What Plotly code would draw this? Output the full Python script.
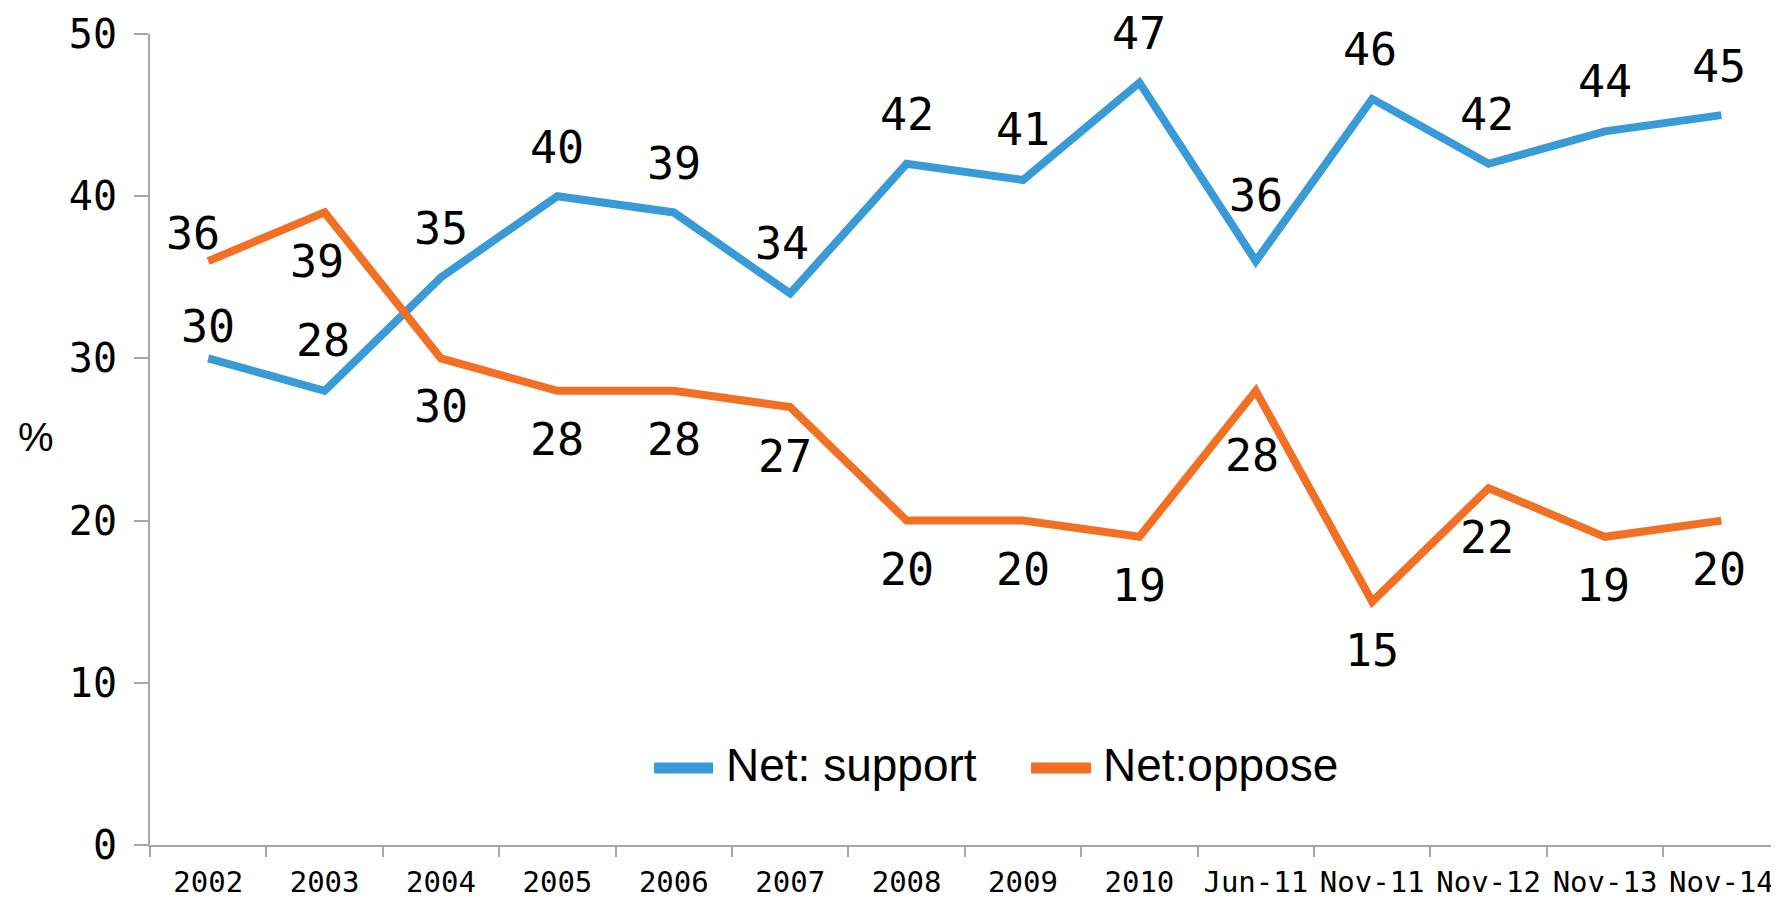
import plotly.graph_objects as go

# ---- data ----
categories = ["2002", "2003", "2004", "2005", "2006", "2007", "2008", "2009",
              "2010", "Jun-11", "Nov-11", "Nov-12", "Nov-13", "Nov-14"]
net_support = [30, 28, 35, 40, 39, 34, 42, 41, 47, 36, 46, 42, 44, 45]
net_oppose = [36, 39, 30, 28, 28, 27, 20, 20, 19, 28, 15, 22, 19, 20]
series_names = ["Net: support", "Net:oppose"]
y_ticks = [0, 10, 20, 30, 40, 50]
y_title = "%"

# ---- style ----
OFF = 8  # page body margin of the html wrapper
W, H = 1779 - OFF, 900 - OFF
ML, MR, MT = 150 - OFF, 0, 34 - OFF
PH = 811
MB = H - MT - PH
PW = W - ML - MR
BLUE = "#389AD6"
ORANGE = "#F17024"
AXIS = "#A6A6A6"
MONO = "DejaVu Sans Mono"
SANS = "Liberation Sans"

# label offsets (pixels) for each point
sup_dy = [32, 50, 49, 49, 49, 50, 49, 50, 49, 66, 49, 49, 50, 49]
sup_dx = [0, -2, 0, 0, 0, -8, 0, 0, 0, 0, -2, -2, 0, -2]
opp_dy = [28, -49, -48, -49, -49, -49, -49, -49, -49, -65, -49, -49, -49, -49]
opp_dx = [-15, -8, 0, 0, 0, -5, 0, 0, 0, -4, 0, -2, -2, -2]

fig = go.Figure()
fig.add_trace(go.Scatter(x=categories, y=net_support, mode="lines", name=series_names[0],
                         line=dict(color=BLUE, width=8), showlegend=False))
fig.add_trace(go.Scatter(x=categories, y=net_oppose, mode="lines", name=series_names[1],
                         line=dict(color=ORANGE, width=8), showlegend=False))

annotations = []
for vals, dys, dxs in ((net_support, sup_dy, sup_dx), (net_oppose, opp_dy, opp_dx)):
    for i, (v, dy, dx) in enumerate(zip(vals, dys, dxs)):
        # category axis: position given as category index
        annotations.append(dict(x=i, y=v, xref="x", yref="y", text=str(v), showarrow=False,
                                yshift=dy, xshift=dx,
                                font=dict(family=MONO, size=45, color="black")))


# convert page pixel positions into paper coordinates
def px_x(p):
    return (p - OFF - ML) / PW


def px_y(p):
    return (OFF + MT + PH - p) / PH


# y-axis title (horizontal)
annotations.append(dict(xref="paper", yref="paper", x=px_x(36), y=px_y(437), text=y_title,
                        showarrow=False, xanchor="center", yanchor="middle",
                        font=dict(family=SANS, size=40, color="black")))

# manual legend
shapes = []
legend_items = [(series_names[0], BLUE, 654, 713, 724), (series_names[1], ORANGE, 1031, 1091, 1101)]
for name, col, x0, x1, xt in legend_items:
    shapes.append(dict(type="line", xref="paper", yref="paper", x0=px_x(x0), x1=px_x(x1),
                       y0=px_y(768), y1=px_y(768), line=dict(color=col, width=11)))
    annotations.append(dict(xref="paper", yref="paper", x=px_x(xt), y=px_y(765), text=name,
                            xanchor="left", yanchor="middle", showarrow=False,
                            font=dict(family=SANS, size=46, color="black")))

fig.update_layout(
    width=W, height=H,
    margin=dict(l=ML, r=MR, t=MT, b=MB, pad=0),
    plot_bgcolor="white", paper_bgcolor="white",
    showlegend=False,
    annotations=annotations,
    shapes=shapes,
    xaxis=dict(type="category", categoryorder="array", categoryarray=categories,
               range=[-0.5, -0.5 + PW / 116.4], automargin=False, tickangle=0,
               showgrid=False, zeroline=False, showline=True, linecolor=AXIS, linewidth=2,
               ticks="outside", tickson="boundaries", ticklen=10, tickcolor=AXIS, tickwidth=2,
               tickfont=dict(family=MONO, size=29, color="black"), ticklabelstandoff=10),
    yaxis=dict(range=[0, 50], tickvals=y_ticks, showgrid=False, zeroline=False,
               automargin=False,
               showline=True, linecolor=AXIS, linewidth=2,
               ticks="outside", ticklen=14, tickcolor=AXIS, tickwidth=2,
               tickfont=dict(family=MONO, size=40, color="black"), ticklabelstandoff=9),
)

fig.write_html("out.html")
